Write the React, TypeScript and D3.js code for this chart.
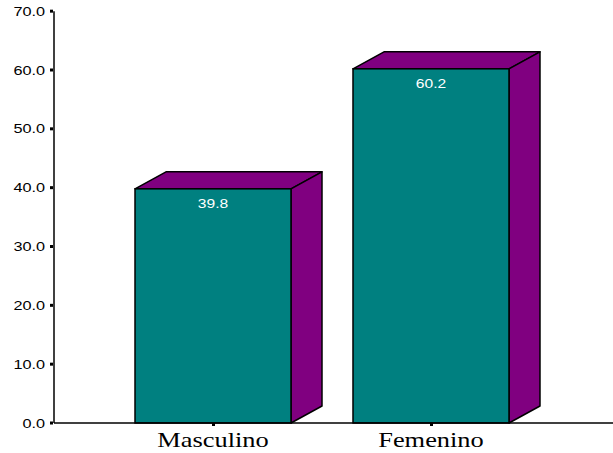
import React from "react";
import * as d3 from "d3";

const categories = ["Masculino", "Femenino"];
const values = [39.8, 60.2];
const yTicks = [0, 10, 20, 30, 40, 50, 60, 70];

const W = 613;
const H = 453;

export default function App() {
  const y = d3.scaleLinear().domain([0, 60]).range([423, 70]);
  const x = d3
    .scaleBand<string>()
    .domain(categories)
    .range([54, 590])
    .paddingInner(0.2844)
    .paddingOuter(0.3716);
  const dx = 31;
  const dy = 17;
  const base = y(0);
  const sans = "Arial, 'Liberation Sans', sans-serif";
  return (
    <svg
      width={W}
      height={H}
      style={{ position: "absolute", left: 0, top: 0, background: "#fff" }}
    >
      {categories.map((c, i) => {
        const x0 = x(c)!;
        const x1 = x0 + x.bandwidth();
        const cx = x0 + x.bandwidth() / 2;
        const yt = y(values[i]);
        const top = `M${x0},${yt} L${x0 + dx},${yt - dy} L${x1 + dx},${yt - dy} L${x1},${yt} Z`;
        const side = `M${x1},${yt} L${x1 + dx},${yt - dy} L${x1 + dx},${base - dy} L${x1},${base} Z`;
        return (
          <g key={c}>
            <path d={top} fill="#800080" stroke="#000" strokeWidth={1.5} strokeLinejoin="round" />
            <path d={side} fill="#800080" stroke="#000" strokeWidth={1.5} strokeLinejoin="round" />
            <rect
              x={x0}
              y={yt}
              width={x.bandwidth()}
              height={base - yt}
              fill="#008080"
              stroke="#000"
              strokeWidth={1.5}
            />
            <text
              transform={`translate(${cx},${yt + 19}) scale(1.2,1)`}
              textAnchor="middle"
              fill="#fff"
              fontFamily={sans}
              fontSize={13}
            >
              {values[i].toFixed(1)}
            </text>
            <text
              transform={`translate(${cx},${447}) scale(1.2,1)`}
              textAnchor="middle"
              fill="#000"
              fontFamily="'Times New Roman', 'Liberation Serif', serif"
              fontSize={22}
            >
              {c}
            </text>
            <rect x={cx - 1} y={base} width={3} height={3} fill="#000" />
          </g>
        );
      })}
      <line x1={54} x2={613} y1={base} y2={base} stroke="#000" strokeWidth={1.5} />
      <line x1={54} x2={54} y1={y(70)} y2={base} stroke="#000" strokeWidth={1.5} />
      {yTicks.map((t) => (
        <g key={t}>
          <rect x={50} y={y(t) - 1.5} width={3} height={3} fill="#000" />
          <text
            transform={`translate(45,${y(t) + 4.5}) scale(1.25,1)`}
            textAnchor="end"
            fill="#000"
            fontFamily={sans}
            fontSize={13}
          >
            {t.toFixed(1)}
          </text>
        </g>
      ))}
    </svg>
  );
}
